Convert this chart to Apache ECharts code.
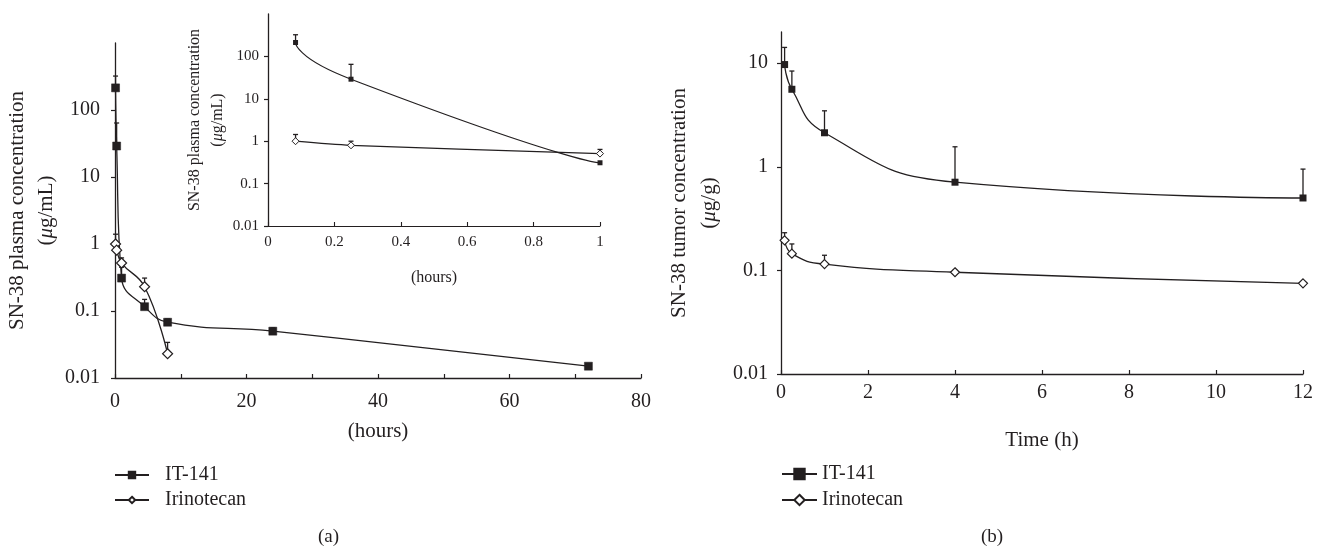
<!DOCTYPE html>
<html><head><meta charset="utf-8">
<script src="https://cdn.jsdelivr.net/npm/echarts@6/dist/echarts.min.js"></script>
<style>html,body{margin:0;padding:0;background:#fff}#c{width:1317px;height:548px}</style>
</head><body><div id="c"></div>
<script>
// ---- Data (a) main plot: SN-38 plasma concentration (µg/mL) vs hours ----
const plasmaTimeIT = [0.083, 0.25, 1, 4.5, 8, 24, 72];
const plasmaIT = [214, 29, 0.31, 0.116, 0.068, 0.050, 0.015];
const plasmaErrTopIT = [321, 64, 0.45, 0.149, 0.076, 0.056, null];
const plasmaTimeIR = [0.083, 0.25, 1, 4.5, 8];
const plasmaIR = [1.0, 0.81, 0.52, 0.23, 0.023];
const plasmaErrTopIR = [1.4, 1.0, 0.62, 0.31, 0.034];
// ---- Data (a) inset: first hour ----
const insetTime = [0.083, 0.25, 1];
const insetIT = [213, 29, 0.31];
const insetErrTopIT = [324, 65, null];
const insetIR = [1.0, 0.8, 0.51];
const insetErrTopIR = [1.44, 1.0, 0.64];
// ---- Data (b): SN-38 tumor concentration (µg/g) vs time (h) ----
const tumorTime = [0.083, 0.25, 1, 4, 12];
const tumorIT = [9.7, 5.6, 2.13, 0.71, 0.5];
const tumorErrTopIT = [14.2, 8.4, 3.47, 1.56, 0.95];
const tumorIR = [0.195, 0.145, 0.115, 0.096, 0.075];
const tumorErrTopIR = [0.231, 0.18, 0.14, 0.1, null];
// ---- Tick labels ----
const logTicksA = [0.01, 0.1, 1, 10, 100];
const logTicksB = [0.01, 0.1, 1, 10];
const seriesNames = ['IT-141', 'Irinotecan'];

const INK = '#231f20';
const FONT = "'Liberation Serif','DejaVu Serif',serif";

function pairs(xs, ys) { return xs.map((x, i) => [x, ys[i]]); }
function errData(xs, ys, tops) {
  const out = [];
  xs.forEach((x, i) => { if (tops[i] != null) out.push([x, ys[i], tops[i]]); });
  return out;
}
function errRender(params, api) {
  const x = api.value(0), y = api.value(1), t = api.value(2);
  const p0 = api.coord([x, y]);
  const p1 = api.coord([x, t]);
  const w = 2.5;
  return {
    type: 'group',
    children: [
      { type: 'line', shape: { x1: p0[0], y1: p0[1], x2: p1[0], y2: p1[1] }, style: { stroke: INK, lineWidth: 1.3 } },
      { type: 'line', shape: { x1: p1[0] - w, y1: p1[1], x2: p1[0] + w, y2: p1[1] }, style: { stroke: INK, lineWidth: 1.3 } }
    ]
  };
}
function fmtNum(v) { return String(parseFloat(Number(v).toPrecision(4))); }

function logAxis(gridIndex, min, max, ticks, fontSize, margin, name, nameGap, nameSize) {
  return {
    type: 'log', logBase: 10, gridIndex, min, max,
    name, nameLocation: 'middle', nameRotate: 90, nameGap,
    nameTextStyle: {
      color: INK, fontFamily: FONT, fontSize: nameSize, lineHeight: nameSize * 1.4, align: 'center',
      rich: {
        a: { fontFamily: FONT, fontSize: nameSize, color: INK },
        i: { fontFamily: FONT, fontSize: nameSize, color: INK, fontStyle: 'italic' }
      }
    },
    axisLine: { show: true, lineStyle: { color: INK, width: 1.3 } },
    axisTick: { show: true, inside: false, length: 4, customValues: ticks, lineStyle: { color: INK, width: 1.2 } },
    axisLabel: {
      customValues: ticks, color: INK, fontFamily: FONT, fontSize, margin,
      formatter: v => (ticks.some(t => Math.abs(t - v) / t < 1e-6) ? fmtNum(v) : '')
    },
    splitLine: { show: false }, minorTick: { show: false }
  };
}

const option = {
  animation: false,
  backgroundColor: '#fff',
  textStyle: { fontFamily: FONT, color: INK },
  grid: [
    { left: 115, top: 43, width: 526, height: 335 },
    { left: 268, top: 14, width: 332, height: 212 },
    { left: 781, top: 32, width: 522, height: 342 }
  ],
  xAxis: [
    {
      type: 'value', gridIndex: 0, min: 0, max: 80, interval: 10,
      name: '(hours)', nameLocation: 'middle', nameGap: 43,
      nameTextStyle: { color: INK, fontFamily: FONT, fontSize: 21 },
      axisLine: { lineStyle: { color: INK, width: 1.3 } },
      axisTick: { inside: true, length: 4, lineStyle: { color: INK, width: 1.2 } },
      axisLabel: { color: INK, fontFamily: FONT, fontSize: 20, margin: 14, formatter: v => (v % 20 === 0 ? String(v) : '') },
      splitLine: { show: false }
    },
    {
      type: 'value', gridIndex: 1, min: 0, max: 1, interval: 0.2,
      name: '(hours)', nameLocation: 'middle', nameGap: 44,
      nameTextStyle: { color: INK, fontFamily: FONT, fontSize: 16 },
      axisLine: { lineStyle: { color: INK, width: 1.2 } },
      axisTick: { inside: true, length: 4, lineStyle: { color: INK, width: 1.1 } },
      axisLabel: { color: INK, fontFamily: FONT, fontSize: 15, margin: 9, formatter: v => fmtNum(v) },
      splitLine: { show: false }
    },
    {
      type: 'value', gridIndex: 2, min: 0, max: 12, interval: 2,
      name: 'Time (h)', nameLocation: 'middle', nameGap: 56,
      nameTextStyle: { color: INK, fontFamily: FONT, fontSize: 21 },
      axisLine: { lineStyle: { color: INK, width: 1.3 } },
      axisTick: { inside: true, length: 4, lineStyle: { color: INK, width: 1.2 } },
      axisLabel: { color: INK, fontFamily: FONT, fontSize: 20, margin: 9 },
      splitLine: { show: false }
    }
  ],
  yAxis: [
    logAxis(0, 0.01, 1000, logTicksA, 20, 15, '{a|SN-38 plasma concentration}\n({i|μ}g/mL)', 52, 21),
    logAxis(1, 0.01, 1000, logTicksA, 15, 9, '{a|SN-38 plasma concentration}\n({i|μ}g/mL)', 36, 16),
    logAxis(2, 0.01, 20, logTicksB, 20, 13, '{a|SN-38 tumor concentration}\n({i|μ}g/g)', 57, 21)
  ],
  legend: [
    {
      data: seriesNames, orient: 'vertical', left: 109, top: 460,
      itemWidth: 34, itemHeight: 8, itemGap: 5,
      textStyle: { color: INK, fontFamily: FONT, fontSize: 20, padding: [0, 0, 0, 11] }, selectedMode: false
    },
    {
      data: seriesNames, orient: 'vertical', left: 776, top: 459,
      itemWidth: 35, itemHeight: 13, itemGap: 6,
      textStyle: { color: INK, fontFamily: FONT, fontSize: 20 }, selectedMode: false
    }
  ],
  graphic: [
    { type: 'text', left: 318, top: 528, style: { text: '(a)', fontFamily: FONT, fontSize: 19, fill: INK } },
    { type: 'text', left: 981, top: 528, style: { text: '(b)', fontFamily: FONT, fontSize: 19, fill: INK } }
  ],
  series: [
    // (a) main
    { type: 'custom', xAxisIndex: 0, yAxisIndex: 0, z: 1, renderItem: errRender, encode: { x: 0, y: 1 }, data: errData(plasmaTimeIT, plasmaIT, plasmaErrTopIT), silent: true },
    { type: 'custom', xAxisIndex: 0, yAxisIndex: 0, z: 1, renderItem: errRender, encode: { x: 0, y: 1 }, data: errData(plasmaTimeIR, plasmaIR, plasmaErrTopIR), silent: true },
    { name: 'IT-141', type: 'line', xAxisIndex: 0, yAxisIndex: 0, z: 3, smooth: 0.45, data: pairs(plasmaTimeIT, plasmaIT),
      symbol: 'rect', symbolSize: 8, itemStyle: { color: INK, borderColor: INK, borderWidth: 0.5 }, lineStyle: { color: INK, width: 1.3 } },
    { name: 'Irinotecan', type: 'line', xAxisIndex: 0, yAxisIndex: 0, z: 3, smooth: 0.45, data: pairs(plasmaTimeIR, plasmaIR),
      symbol: 'diamond', symbolSize: 10, itemStyle: { color: '#fff', borderColor: INK, borderWidth: 1.2 }, lineStyle: { color: INK, width: 1.3 } },
    // (a) inset
    { type: 'custom', xAxisIndex: 1, yAxisIndex: 1, z: 1, renderItem: errRender, encode: { x: 0, y: 1 }, data: errData(insetTime, insetIT, insetErrTopIT), silent: true },
    { type: 'custom', xAxisIndex: 1, yAxisIndex: 1, z: 1, renderItem: errRender, encode: { x: 0, y: 1 }, data: errData(insetTime, insetIR, insetErrTopIR), silent: true },
    { name: 'IT-141', type: 'line', xAxisIndex: 1, yAxisIndex: 1, z: 3, smooth: 1, data: pairs(insetTime, insetIT),
      symbol: 'rect', symbolSize: 5, itemStyle: { color: INK }, lineStyle: { color: INK, width: 1.2 } },
    { name: 'Irinotecan', type: 'line', xAxisIndex: 1, yAxisIndex: 1, z: 3, smooth: 0.3, data: pairs(insetTime, insetIR),
      symbol: 'diamond', symbolSize: 7, itemStyle: { color: '#fff', borderColor: INK, borderWidth: 1 }, lineStyle: { color: INK, width: 1.2 } },
    // (b)
    { type: 'custom', xAxisIndex: 2, yAxisIndex: 2, z: 1, renderItem: errRender, encode: { x: 0, y: 1 }, data: errData(tumorTime, tumorIT, tumorErrTopIT), silent: true },
    { type: 'custom', xAxisIndex: 2, yAxisIndex: 2, z: 1, renderItem: errRender, encode: { x: 0, y: 1 }, data: errData(tumorTime, tumorIR, tumorErrTopIR), silent: true },
    { name: 'IT-141', type: 'line', xAxisIndex: 2, yAxisIndex: 2, z: 3, smooth: 0.5, data: pairs(tumorTime, tumorIT),
      symbol: 'rect', symbolSize: 7, itemStyle: { color: INK }, lineStyle: { color: INK, width: 1.3 } },
    { name: 'Irinotecan', type: 'line', xAxisIndex: 2, yAxisIndex: 2, z: 3, smooth: 0.5, data: pairs(tumorTime, tumorIR),
      symbol: 'diamond', symbolSize: 9, itemStyle: { color: '#fff', borderColor: INK, borderWidth: 1.2 }, lineStyle: { color: INK, width: 1.3 } }
  ]
};
const chart = echarts.init(document.getElementById('c'), null, { renderer: 'canvas' });
chart.setOption(option);
</script>
</body></html>
